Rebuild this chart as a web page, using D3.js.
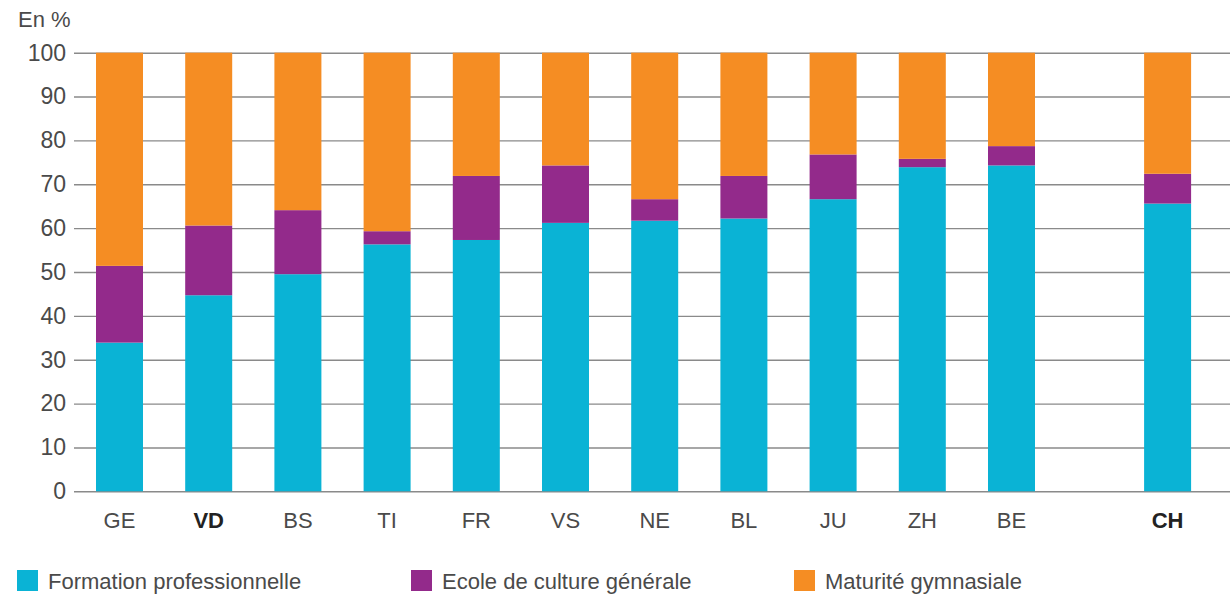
<!DOCTYPE html>
<html>
<head>
<meta charset="utf-8">
<script src="https://cdn.jsdelivr.net/npm/d3@7"></script>
<style>
  body { margin: 0; background: #fff; }
  text { font-family: "Liberation Sans Narrow", "Liberation Sans", sans-serif; fill: #4a4a4a; }
</style>
</head>
<body>
<div class="chart"></div>
<script>
var svgWidth = 1230;
var svgHeight = 596;

// Data (%)
var cantons = ["GE", "VD", "BS", "TI", "FR", "VS", "NE", "BL", "JU", "ZH", "BE", "CH"];
var boldCantons = ["VD", "CH"];
var formationPro = [33.9, 44.7, 49.5, 56.3, 57.3, 61.2, 61.7, 62.2, 66.6, 73.9, 74.3, 65.6];
var ecoleCulture = [17.5, 15.9, 14.6, 3.0, 14.6, 13.1, 4.9, 9.7, 10.2, 1.9, 4.4, 6.8];
var maturite = [48.6, 39.4, 35.9, 40.7, 28.1, 25.7, 33.4, 28.1, 23.2, 24.2, 21.3, 27.6];
var seriesNames = ["Formation professionnelle", "Ecole de culture générale", "Maturité gymnasiale"];
var seriesColors = ["#0ab3d5", "#932a8b", "#f58d23"];
var yTicks = [0, 10, 20, 30, 40, 50, 60, 70, 80, 90, 100];

var rows = cantons.map(function (c, i) {
  return { canton: c, fp: formationPro[i], ecg: ecoleCulture[i], mg: maturite[i] };
});
var keys = ["fp", "ecg", "mg"];

var svg = d3.select(".chart")
  .append("svg")
  .attr("width", svgWidth)
  .attr("height", svgHeight);

var plotLeft = 74;
var plotRight = 1230;

// CH sits after a gap in the category axis
var gapSlots = 1.75;
function slotIndex(i) { return i < cantons.length - 1 ? i : i - 1 + gapSlots; }

var xSlot = d3.scaleLinear().domain([0, 1]).range([119.5, 208.7]);
var barWidth = 47;

var yScale = d3.scaleLinear()
  .domain([0, 100])
  .range([491.3, 52.7]);

// Gridlines
var leftAxis = d3.axisLeft(yScale)
  .tickValues(yTicks)
  .tickSize(-(plotRight - plotLeft))
  .tickPadding(8);

var yAxisG = svg.append("g")
  .attr("transform", `translate(${plotLeft}, 0)`)
  .call(leftAxis);
yAxisG.select(".domain").remove();
yAxisG.selectAll(".tick line")
  .attr("stroke", "#8a8a8a")
  .attr("stroke-width", 1.4);
yAxisG.selectAll(".tick text")
  .attr("x", -8)
  .style("font-size", "23px")
  .style("fill", "#4a4a4a");

// Stacked bars
var stacked = d3.stack().keys(keys)(rows);

svg.append("g").selectAll("g")
  .data(stacked)
  .enter()
  .append("g")
  .attr("fill", (d, i) => seriesColors[i])
  .selectAll("rect")
  .data(d => d)
  .enter()
  .append("rect")
  .attr("x", (d, i) => xSlot(slotIndex(i)) - barWidth / 2)
  .attr("width", barWidth)
  .attr("y", d => yScale(d[1]))
  .attr("height", d => yScale(d[0]) - yScale(d[1]));

// Category labels
svg.append("g").selectAll("text")
  .data(cantons)
  .enter()
  .append("text")
  .attr("x", (d, i) => xSlot(slotIndex(i)))
  .attr("y", 528)
  .attr("text-anchor", "middle")
  .style("font-size", "22px")
  .style("font-weight", d => boldCantons.indexOf(d) >= 0 ? "bold" : "normal")
  .style("fill", d => boldCantons.indexOf(d) >= 0 ? "#222" : "#4a4a4a")
  .text(d => d);

// Unit label
svg.append("text")
  .attr("x", 18)
  .attr("y", 27)
  .style("font-size", "22px")
  .text("En %");

// Legend
var legendX = [17, 411, 794];
var legend = svg.append("g").selectAll("g")
  .data(seriesNames)
  .enter()
  .append("g")
  .attr("transform", (d, i) => `translate(${legendX[i]}, 570)`);

legend.append("rect")
  .attr("width", 21)
  .attr("height", 21)
  .attr("fill", (d, i) => seriesColors[i]);

legend.append("text")
  .attr("x", 31)
  .attr("y", 19)
  .style("font-size", "22px")
  .text(d => d);
</script>
</body>
</html>
